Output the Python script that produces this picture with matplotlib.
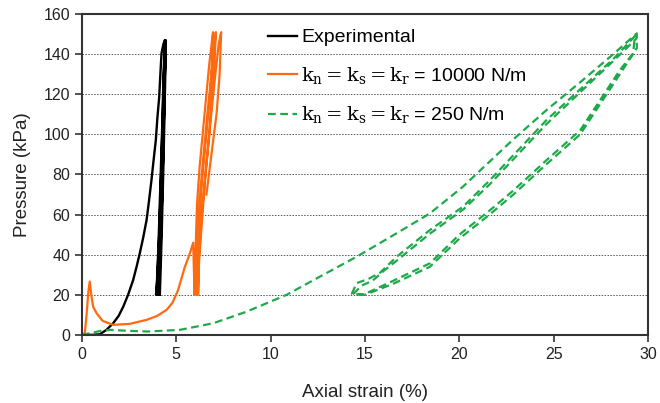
import matplotlib.pyplot as plt

plt.rcParams['font.family'] = ['Liberation Sans', 'DejaVu Sans']
plt.rcParams['mathtext.fontset'] = 'dejavuserif'

# Experimental: loading curve then tight unload/reload cycles
exp_x = [0, 0.5, 0.95, 1.3, 1.66, 1.95, 2.19, 2.45, 2.72, 2.9, 3.07, 3.25, 3.43, 3.56, 3.69,
         3.8, 3.92, 4.0, 4.10, 4.16, 4.22, 4.32, 4.40,
         4.36, 4.29, 4.20, 4.10, 4.00, 3.93,
         3.96, 4.06, 4.16, 4.26, 4.33, 4.41,
         4.38, 4.31, 4.23, 4.14, 4.05, 3.99,
         4.03, 4.13, 4.22, 4.30, 4.37, 4.43,
         4.41, 4.35, 4.28, 4.19, 4.11, 4.06,
         4.09, 4.18, 4.27, 4.34, 4.40, 4.45,
         4.43, 4.38, 4.31, 4.23, 4.16, 4.13]
exp_y = [0, 0, 0.3, 2.5, 5.8, 9.5, 14, 20, 27.4, 34, 40.7, 48.5, 57.3, 67, 77.3,
         87, 97.2, 108, 118.8, 130, 140.4, 145, 147,
         135, 110, 80, 50, 28, 20,
         22, 45, 75, 105, 130, 146,
         135, 110, 80, 50, 28, 20,
         22, 45, 75, 105, 130, 146,
         135, 110, 80, 50, 28, 20,
         22, 45, 75, 105, 130, 147,
         135, 110, 80, 50, 28, 20]

# DEM, k = 10000 N/m
stiff_x = [0, 0.16, 0.25, 0.35, 0.42, 0.5, 0.6, 0.78, 1.1, 1.66, 2.54, 3.43, 4.0, 4.49,
           4.8, 5.1, 5.46, 5.7, 5.9, 5.97,
           6.02, 6.1, 6.25, 6.5, 6.75, 6.95,
           6.92, 6.8, 6.6, 6.4, 6.2, 6.1, 6.06,
           6.12, 6.22, 6.4, 6.65, 6.92, 7.1,
           7.05, 6.95, 6.75, 6.55, 6.35, 6.2, 6.16,
           6.2, 6.35, 6.55, 6.8, 7.05, 7.25, 7.38,
           7.3, 7.14, 7.0, 6.8, 6.6]
stiff_y = [0, 1, 10, 22, 26.6, 20, 14, 10.8, 7, 5, 5.5, 7.5, 9.5, 12.5,
           16, 22.4, 34, 40, 46, 20,
           40, 65, 85, 110, 135, 151,
           140, 120, 100, 80, 55, 35, 20,
           40, 65, 85, 110, 135, 151,
           140, 125, 100, 80, 55, 35, 20,
           40, 60, 80, 105, 128, 145, 151,
           130, 110.5, 100, 85, 70]

# DEM, k = 250 N/m
soft_x = [0, 0.5, 1.0, 1.5, 2.5, 3.5, 5.19, 6.96, 8.73, 10.85, 12.6, 14.56, 16.68,
          18.44, 20.2, 21.1, 22.8, 24.6, 26.4, 28.2, 29.4,
          29.4, 29.2, 28.5, 26.4, 24.6, 22.86, 21.6, 20.0, 18.44, 16.5, 14.9, 14.3,
          14.56, 15.2, 15.8, 16.68, 18.44, 20.2, 21.6, 24.6, 28.2, 29.3,
          29.2, 28.5, 26.4, 24.6, 22.86, 21.6, 20.0, 18.44, 16.5, 15.0, 14.4,
          14.8, 15.4, 16.0, 16.68, 18.44, 20.2, 21.6, 24.6, 28.2, 29.4]
soft_y = [0, 1, 2, 2.5, 2, 1.7, 2.5, 5.8, 11.6, 20, 29, 39, 50.7,
          60.6, 74, 82, 97, 112, 126, 140.4, 150.4,
          143, 140.4, 132, 102, 87, 72, 62, 50, 35.7, 27, 20, 20.5,
          25.8, 28, 31, 39, 52.3, 64, 77, 107, 138, 149,
          140, 130, 100, 85, 70, 60, 48, 34, 25.5, 20, 20.5,
          24.5, 27, 32, 37, 50.5, 62.5, 75, 105, 137, 148]

labels = ['Experimental',
          r'$\mathrm{k_n = k_s = k_r}$ = 10000 N/m',
          r'$\mathrm{k_n = k_s = k_r}$ = 250 N/m']

fig = plt.figure(figsize=(6.6, 4.03), dpi=100)
ax = fig.add_axes([0.124, 0.169, 0.858, 0.796])

ax.plot(exp_x, exp_y, color='black', lw=1.7, label=labels[0])
ax.plot(stiff_x, stiff_y, color='#FF6A10', lw=1.6, label=labels[1])
ax.plot(soft_x, soft_y, color='#1EAA4A', lw=1.6, ls=(0, (3.5, 2)), label=labels[2])

ax.set_xlim(0, 30)
ax.set_ylim(0, 160)
ax.set_xticks(range(0, 31, 5))
ax.set_yticks(range(0, 161, 20))
ax.yaxis.grid(True, ls=(0, (1.5, 1.5)), color='#555555', lw=0.7)
ax.set_axisbelow(True)
for s in ax.spines.values():
    s.set_color('#333333')
    s.set_linewidth(1.5)
ax.tick_params(labelsize=11.5, length=5, width=1.2, color='#333333', labelcolor='#222222')

ax.set_xlabel('Axial strain (%)', fontsize=13.5, labelpad=16, color='#222222')
ax.set_ylabel('Pressure (kPa)', fontsize=13.5, labelpad=9, color='#222222')

ax.legend(loc='upper left', bbox_to_anchor=(0.3286, 0.954), frameon=False, fontsize=14,
          handlelength=1.5, handletextpad=0.2, labelspacing=0.95,
          borderpad=0, borderaxespad=0)

fig.savefig('out.png', dpi=100)
